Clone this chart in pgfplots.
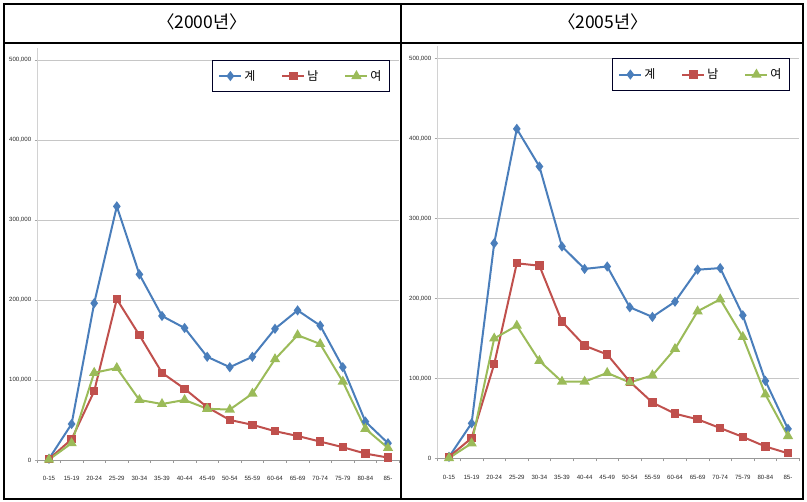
\documentclass[border=0pt]{standalone}
\usepackage{pgfplots}
\usepackage{pgfplotstable}
\pgfplotsset{compat=1.18}
\usepackage{fontspec}
\setmainfont{Noto Sans CJK KR}
\newfontfamily\tickfont{Liberation Sans}
\definecolor{cblue}{RGB}{74,126,187}
\definecolor{cred}{RGB}{192,80,77}
\definecolor{cgreen}{RGB}{155,187,89}

\pgfplotstableread{
i total male female
0 1500 1000 500
1 45000 26000 21000
2 196000 86000 109000
3 317000 201000 115000
4 232000 156000 75000
5 180000 109000 70000
6 165000 89000 75000
7 129000 66000 64000
8 116000 50000 63000
9 129000 44000 83000
10 164000 36000 126000
11 187000 30000 156000
12 168000 23000 145000
13 116000 16000 98000
14 48000 8000 39000
15 21000 3000 15000
}\dataA

\pgfplotstableread{
i total male female
0 2000 2000 500
1 44000 25500 19000
2 269000 118000 150000
3 412000 244000 166000
4 365000 241000 122000
5 265000 171000 96000
6 237000 141000 96000
7 240000 130000 107000
8 189000 96000 95000
9 177000 70000 104000
10 196000 56000 137000
11 236000 49000 184000
12 238000 38000 199000
13 179000 27000 152000
14 97000 15000 80000
15 37000 6500 28000
}\dataB

\pgfplotsset{
  panel/.style={
    scale only axis, width=361.6pt, height=412pt,
    anchor=south west,
    xmin=-0.5, xmax=15.5, ymin=0, ymax=515000,
    xtick={0,...,15},
    xticklabels={0-15,15-19,20-24,25-29,30-34,35-39,40-44,45-49,50-54,55-59,60-64,65-69,70-74,75-79,80-84,85-},
    minor xtick={-0.5,0.5,...,15.5},
    ytick={0,100000,200000,300000,400000,500000},
    axis x line*=bottom, axis y line*=left,
    x axis line style={draw=gray!80, line width=0.8pt, -},
    y axis line style={draw=gray!35, line width=1pt, -},
    tick align=outside,
    major x tick style={draw=none},
    minor x tick style={draw=gray!80, line width=0.6pt},
    minor tick length=3pt,
    major y tick style={draw=gray!70, line width=0.8pt},
    major tick length=3pt,
    ymajorgrids, major grid style={draw=gray!45, line width=0.8pt},
    scaled y ticks=false,
    /pgf/number format/assume math mode=true,
    yticklabel style={/pgf/number format/.cd, fixed, 1000 sep={,}},
    ticklabel style={font=\tickfont\fontsize{6.1}{7}\selectfont, text=black!85},
    xticklabel style={yshift=-10pt},
    legend columns=3,
    legend style={at={(0.974,0.971)}, anchor=north east, draw=black!85!blue, line width=0.8pt,
      font=\fontsize{12}{13}\selectfont, inner xsep=6pt, inner ysep=8pt,
      /tikz/every even column/.append style={column sep=24pt}},
    legend image code/.code={\draw[mark repeat=2,mark phase=2] plot coordinates {(0pt,0pt) (11pt,0pt) (22pt,0pt)};},
  },
  sblue/.style={color=cblue, line width=2pt, mark=diamond*, mark size=3.5pt, mark options={solid}},
  sred/.style={color=cred, line width=2pt, mark=square*, mark size=3.2pt, mark options={solid}},
  sgreen/.style={color=cgreen, line width=2pt, mark=triangle*, mark size=4pt, mark options={solid}},
}

\begin{document}
\begin{tikzpicture}[x=1pt,y=1pt]
\path (0,0) rectangle (807,502);
\draw[line width=1.5pt] (4,3) rectangle (803,498);
\draw[line width=1.5pt] (401,3) -- (401,498);
\draw[line width=1.2pt] (4,459) -- (803,459);
\node[font=\fontsize{17.5}{19}\selectfont] at (202,480) {〈2000년〉};
\node[font=\fontsize{17.5}{19}\selectfont] at (603,480) {〈2005년〉};

\begin{axis}[panel, at={(37.7pt,42pt)}]
\addplot[sblue] table[x=i,y=total] {\dataA};
\addplot[sred] table[x=i,y=male] {\dataA};
\addplot[sgreen] table[x=i,y=female] {\dataA};
\legend{계,남,여}
\end{axis}

\begin{axis}[panel, at={(437.7pt,43.5pt)}]
\addplot[sblue] table[x=i,y=total] {\dataB};
\addplot[sred] table[x=i,y=male] {\dataB};
\addplot[sgreen] table[x=i,y=female] {\dataB};
\legend{계,남,여}
\end{axis}
\pgfresetboundingbox
\useasboundingbox (0,0) rectangle (807,502);
\end{tikzpicture}
\end{document}
